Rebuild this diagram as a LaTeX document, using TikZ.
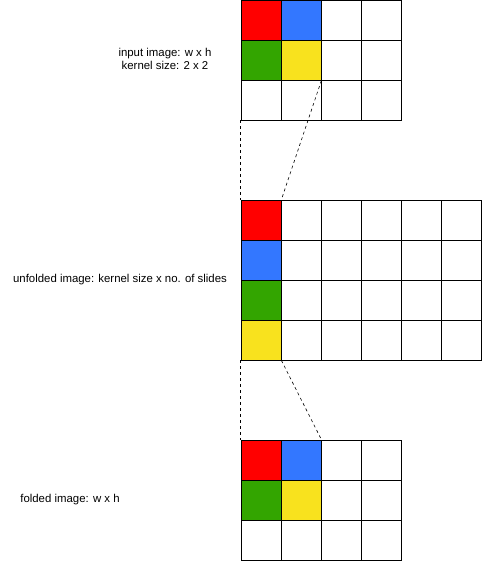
\documentclass[tikz,border=0pt]{standalone}
\usepackage{fontspec}
\setmainfont{Liberation Sans}
\usepackage{xcolor}
\usetikzlibrary{positioning}

\definecolor{cRed}{HTML}{FF0000}
\definecolor{cBlue}{HTML}{3377FF}
\definecolor{cGreen}{HTML}{33A500}
\definecolor{cYellow}{HTML}{F8E21E}

\begin{document}
\begin{tikzpicture}[
  x=1pt, y=-1pt,
  cellBox/.style={rectangle, draw, line width=0.8pt, minimum size=40pt,
                  inner sep=0pt, fill=white},
  labelText/.style={font=\fontsize{11.4}{13}\selectfont, align=center},
  guideLine/.style={dash pattern=on 3pt off 3pt, line width=0.6pt}
]
  \useasboundingbox (0,0) rectangle (483,563);

  % input image, 4 x 3
  \foreach \r in {0,1,2}
    \foreach \c in {0,...,3}
      \node[cellBox] (in-\r-\c) at (261+40*\c, 20+40*\r) {};
  \foreach \cell/\col in {in-0-0/cRed, in-0-1/cBlue, in-1-0/cGreen, in-1-1/cYellow}
    \node[cellBox, fill=\col] (\cell-k) at (\cell) {};

  % unfolded image, 6 x 4
  \foreach \r in {0,...,3}
    \foreach \c in {0,...,5}
      \node[cellBox] (un-\r-\c) at (261+40*\c, 220+40*\r) {};
  \foreach \cell/\col in {un-0-0/cRed, un-1-0/cBlue, un-2-0/cGreen, un-3-0/cYellow}
    \node[cellBox, fill=\col] (\cell-k) at (\cell) {};

  % folded image, 4 x 3
  \foreach \r in {0,1,2}
    \foreach \c in {0,...,3}
      \node[cellBox] (fo-\r-\c) at (261+40*\c, 460+40*\r) {};
  \foreach \cell/\col in {fo-0-0/cRed, fo-0-1/cBlue, fo-1-0/cGreen, fo-1-1/cYellow}
    \node[cellBox, fill=\col] (\cell-k) at (\cell) {};

  % labels
  \node[labelText] (inLabel) at (165,59) {input image: w x h\\kernel size: 2 x 2};
  \node[labelText] (unLabel) at (120,280) {unfolded image: kernel size x no. of slides};
  \node[labelText] (foLabel) at (70,500) {folded image: w x h};

  % guides
  \draw[guideLine] (in-2-0.south west) -- (un-0-0.north west);
  \draw[guideLine] (in-1-1.south east) -- (un-0-0.north east);
  \draw[guideLine] (un-3-0.south west) -- (fo-0-0.north west);
  \draw[guideLine] (un-3-0.south east) -- (fo-0-1.north east);
\end{tikzpicture}
\end{document}
